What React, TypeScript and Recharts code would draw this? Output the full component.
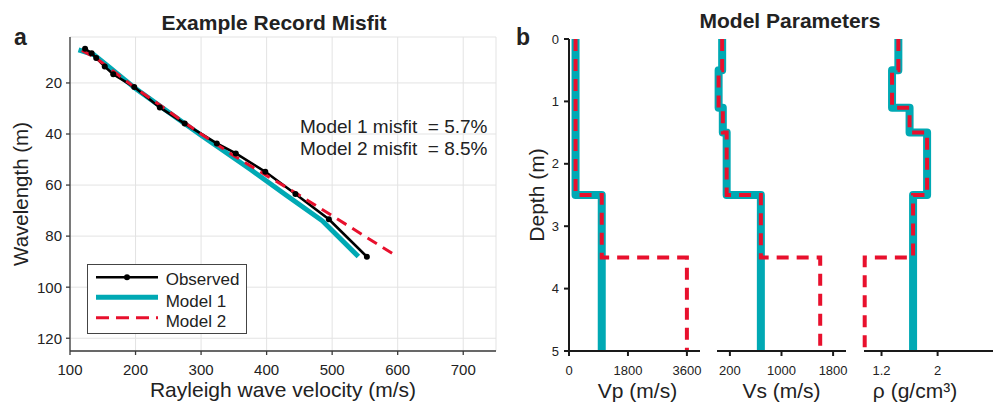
import React from 'react';
import { LineChart, Line, XAxis, YAxis, CartesianGrid, Legend } from 'recharts';

const FONT = '"Liberation Sans", Arial, Helvetica, sans-serif';
const CYAN = '#00a9b4';
const RED = '#e8102d';
const INK = '#222222';

// panel a: dispersion curves, Rayleigh velocity (m/s) vs wavelength (m)
const obsVel = [123, 133, 140, 153, 166, 198, 237, 275, 324, 353, 398, 444, 495, 553];
const obsWl = [6.6, 8.4, 10.2, 13.6, 16.6, 21.6, 29.6, 35.9, 43.7, 47.6, 54.8, 63.5, 73.4, 88.1];
const m1Vel = [113, 136, 160, 200, 250, 300, 375, 430, 485, 540];
const m1Wl = [7, 8.9, 13.8, 22.2, 31.4, 40.5, 53.8, 64, 74, 88];
const m2Vel = [118, 140, 160, 200, 250, 300, 350, 400, 444, 500, 598];
const m2Wl = [7.3, 10.3, 14.2, 22, 31, 40, 48.5, 56.3, 63, 72, 87.8];
const velTicks = [100, 200, 300, 400, 500, 600, 700];
const wlTicks = [20, 40, 60, 80, 100, 120];

// panel b: layered models (layer tops in m, half-space to 5 m)
const model1Tops = [0, 0.5, 1.1, 1.5, 2.5];
const model2Tops = [0, 0.5, 1.1, 1.5, 2.5, 3.5];
const vp1 = [200, 200, 200, 200, 1000];
const vp2 = [200, 200, 200, 200, 1000, 3600];
const vs1 = [80, 25, 90, 150, 680];
const vs2 = [80, 25, 90, 150, 680, 1600];
const rho1 = [1.44, 1.35, 1.6, 1.85, 1.65];
const rho2 = [1.44, 1.35, 1.6, 1.85, 1.65, 0.96];
const depthTicks = [0, 1, 2, 3, 4, 5];
const vpTicks = [0, 1800, 3600];
const vsTicks = [200, 1000, 1800];
const rhoTicks = [1.2, 2];
const MAX_DEPTH = 5;

const misfitLines = ['Model 1 misfit \u00a0= 5.7%', 'Model 2 misfit \u00a0= 8.5%'];

const zip = (xs: number[], ys: number[]) => xs.map((v, i) => ({ v, wl: ys[i] }));

const stepProfile = (tops: number[], vals: number[]) => {
  const pts: { v: number; d: number }[] = [];
  tops.forEach((t, i) => {
    const bottom = i + 1 < tops.length ? tops[i + 1] : MAX_DEPTH;
    pts.push({ v: vals[i], d: t });
    pts.push({ v: vals[i], d: bottom });
  });
  return pts;
};

const observed = zip(obsVel, obsWl);
const model1 = zip(m1Vel, m1Wl);
const model2 = zip(m2Vel, m2Wl);

const LegendBox = () => (
  <svg width={160} height={70} style={{ display: 'block', fontFamily: FONT }}>
    <rect x={0.5} y={0.5} width={159} height={69} fill="#fff" stroke="#444" />
    <line x1={9} x2={71} y1={13.3} y2={13.3} stroke="#000" strokeWidth={2.6} />
    <circle cx={40} cy={13.3} r={3} fill="#000" />
    <text x={78.7} y={21} fontSize={17} fill={INK}>Observed</text>
    <line x1={9} x2={71} y1={33.3} y2={33.3} stroke={CYAN} strokeWidth={5} />
    <text x={78.7} y={42.7} fontSize={17} fill={INK}>Model 1</text>
    <line x1={9} x2={71} y1={53.7} y2={53.7} stroke={RED} strokeWidth={3} strokeDasharray="13 7" />
    <text x={78.7} y={62.7} fontSize={17} fill={INK}>Model 2</text>
  </svg>
);

const ProfilePanel = ({ left, width, mLeft, mRight, domain, ticks, label, labelDx, m1, m2, depthAxis }: any) => (
  <div style={{ position: 'absolute', left, top: 0 }}>
    <LineChart width={width} height={406} margin={{ top: 39, right: mRight, bottom: 0, left: mLeft }}>
      <XAxis
        type="number"
        dataKey="v"
        domain={domain}
        ticks={ticks}
        height={55}
        stroke="#1a1a1a"
        strokeWidth={2}
        tickSize={5}
        tickMargin={10}
        tick={{ fontSize: 13, fill: INK }}
        label={{ value: label, position: 'insideBottom', offset: 8, dx: labelDx, fontSize: 21, fill: INK }}
      />
      <YAxis
        type="number"
        reversed
        domain={[0, MAX_DEPTH]}
        ticks={depthTicks}
        hide={!depthAxis}
        width={69}
        stroke="#1a1a1a"
        strokeWidth={2}
        tickSize={5}
        tickMargin={5}
        tick={{ fontSize: 13, fill: INK }}
        label={{ value: 'Depth (m)', angle: -90, position: 'insideLeft', offset: 37, style: { textAnchor: 'middle' }, fontSize: 21, fill: INK }}
      />
      <Line data={m1} dataKey="d" type="linear" stroke={CYAN} strokeWidth={8} strokeLinejoin="round" dot={false} isAnimationActive={false} />
      <Line data={m2} dataKey="d" type="linear" stroke={RED} strokeWidth={4} strokeDasharray="12 8" dot={false} isAnimationActive={false} />
    </LineChart>
  </div>
);

export default function App() {
  return (
    <div style={{ position: 'fixed', left: 0, top: 0, width: 993, height: 406, overflow: 'hidden', background: '#fff', fontFamily: FONT }}>
      <div style={{ position: 'absolute', left: 0, top: 0 }}>
        <LineChart width={500} height={406} margin={{ top: 37, right: 4, bottom: 0, left: 0 }}>
          <CartesianGrid stroke="#e3e3e3" />
          <XAxis
            type="number"
            dataKey="v"
            domain={[100, 750]}
            ticks={velTicks}
            height={55}
            stroke="#3a3a3a"
            strokeWidth={1.3}
            tickSize={4}
            tickMargin={9}
            tick={{ fontSize: 15, fill: INK }}
            label={{ value: 'Rayleigh wave velocity (m/s)', position: 'insideBottom', offset: 9, fontSize: 21, fill: INK }}
          />
          <YAxis
            type="number"
            reversed
            domain={[2, 125]}
            ticks={wlTicks}
            width={70}
            stroke="#3a3a3a"
            strokeWidth={1.3}
            tickSize={4}
            tickMargin={4}
            tick={{ fontSize: 15, fill: INK }}
            label={{ value: 'Wavelength (m)', angle: -90, position: 'insideLeft', offset: 20.5, style: { textAnchor: 'middle' }, fontSize: 20.5, fill: INK }}
          />
          <Legend
            layout="horizontal"
            verticalAlign="middle"
            align="center"
            content={() => <LegendBox />}
            wrapperStyle={{ left: 87, top: 264, width: 160, height: 70 }}
          />
          <Line data={model1} dataKey="wl" name="Model 1" type="linear" stroke={CYAN} strokeWidth={5} dot={false} isAnimationActive={false} />
          <Line data={observed} dataKey="wl" name="Observed" type="linear" stroke="#000" strokeWidth={2.6} dot={{ r: 3, fill: '#000', stroke: '#000', strokeWidth: 0 }} isAnimationActive={false} />
          <Line data={model2} dataKey="wl" name="Model 2" type="linear" stroke={RED} strokeWidth={3} strokeDasharray="11 7" dot={false} isAnimationActive={false} />
        </LineChart>
      </div>

      <ProfilePanel left={500} width={205} mLeft={0} mRight={5} domain={[0, 4000]} ticks={vpTicks} label="Vp (m/s)" labelDx={3}
        m1={stepProfile(model1Tops, vp1)} m2={stepProfile(model2Tops, vp2)} depthAxis />
      <ProfilePanel left={707} width={145} mLeft={10} mRight={6} domain={[0, 2000]} ticks={vsTicks} label="Vs (m/s)" labelDx={0}
        m1={stepProfile(model1Tops, vs1)} m2={stepProfile(model2Tops, vs2)} depthAxis={false} />
      <ProfilePanel left={856} width={137} mLeft={8} mRight={0} domain={[0.95, 2.79]} ticks={rhoTicks} label="ρ (g/cm³)" labelDx={-13.5}
        m1={stepProfile(model1Tops, rho1)} m2={stepProfile(model2Tops, rho2)} depthAxis={false} />

      <svg width={993} height={406} style={{ position: 'absolute', left: 0, top: 0, pointerEvents: 'none', fontFamily: FONT }}>
        <text x={274} y={29.5} textAnchor="middle" fontSize={21} fontWeight="bold" fill={INK}>Example Record Misfit</text>
        <text x={790} y={27.5} textAnchor="middle" fontSize={21} fontWeight="bold" fill={INK}>Model Parameters</text>
        <text x={14} y={45} fontSize={23} fontWeight="bold" fill={INK}>a</text>
        <text x={516} y={45} fontSize={23} fontWeight="bold" fill={INK}>b</text>
        <text x={300} y={133.3} fontSize={19} fill={INK}>{misfitLines[0]}</text>
        <text x={300} y={155} fontSize={19} fill={INK}>{misfitLines[1]}</text>
      </svg>
    </div>
  );
}
